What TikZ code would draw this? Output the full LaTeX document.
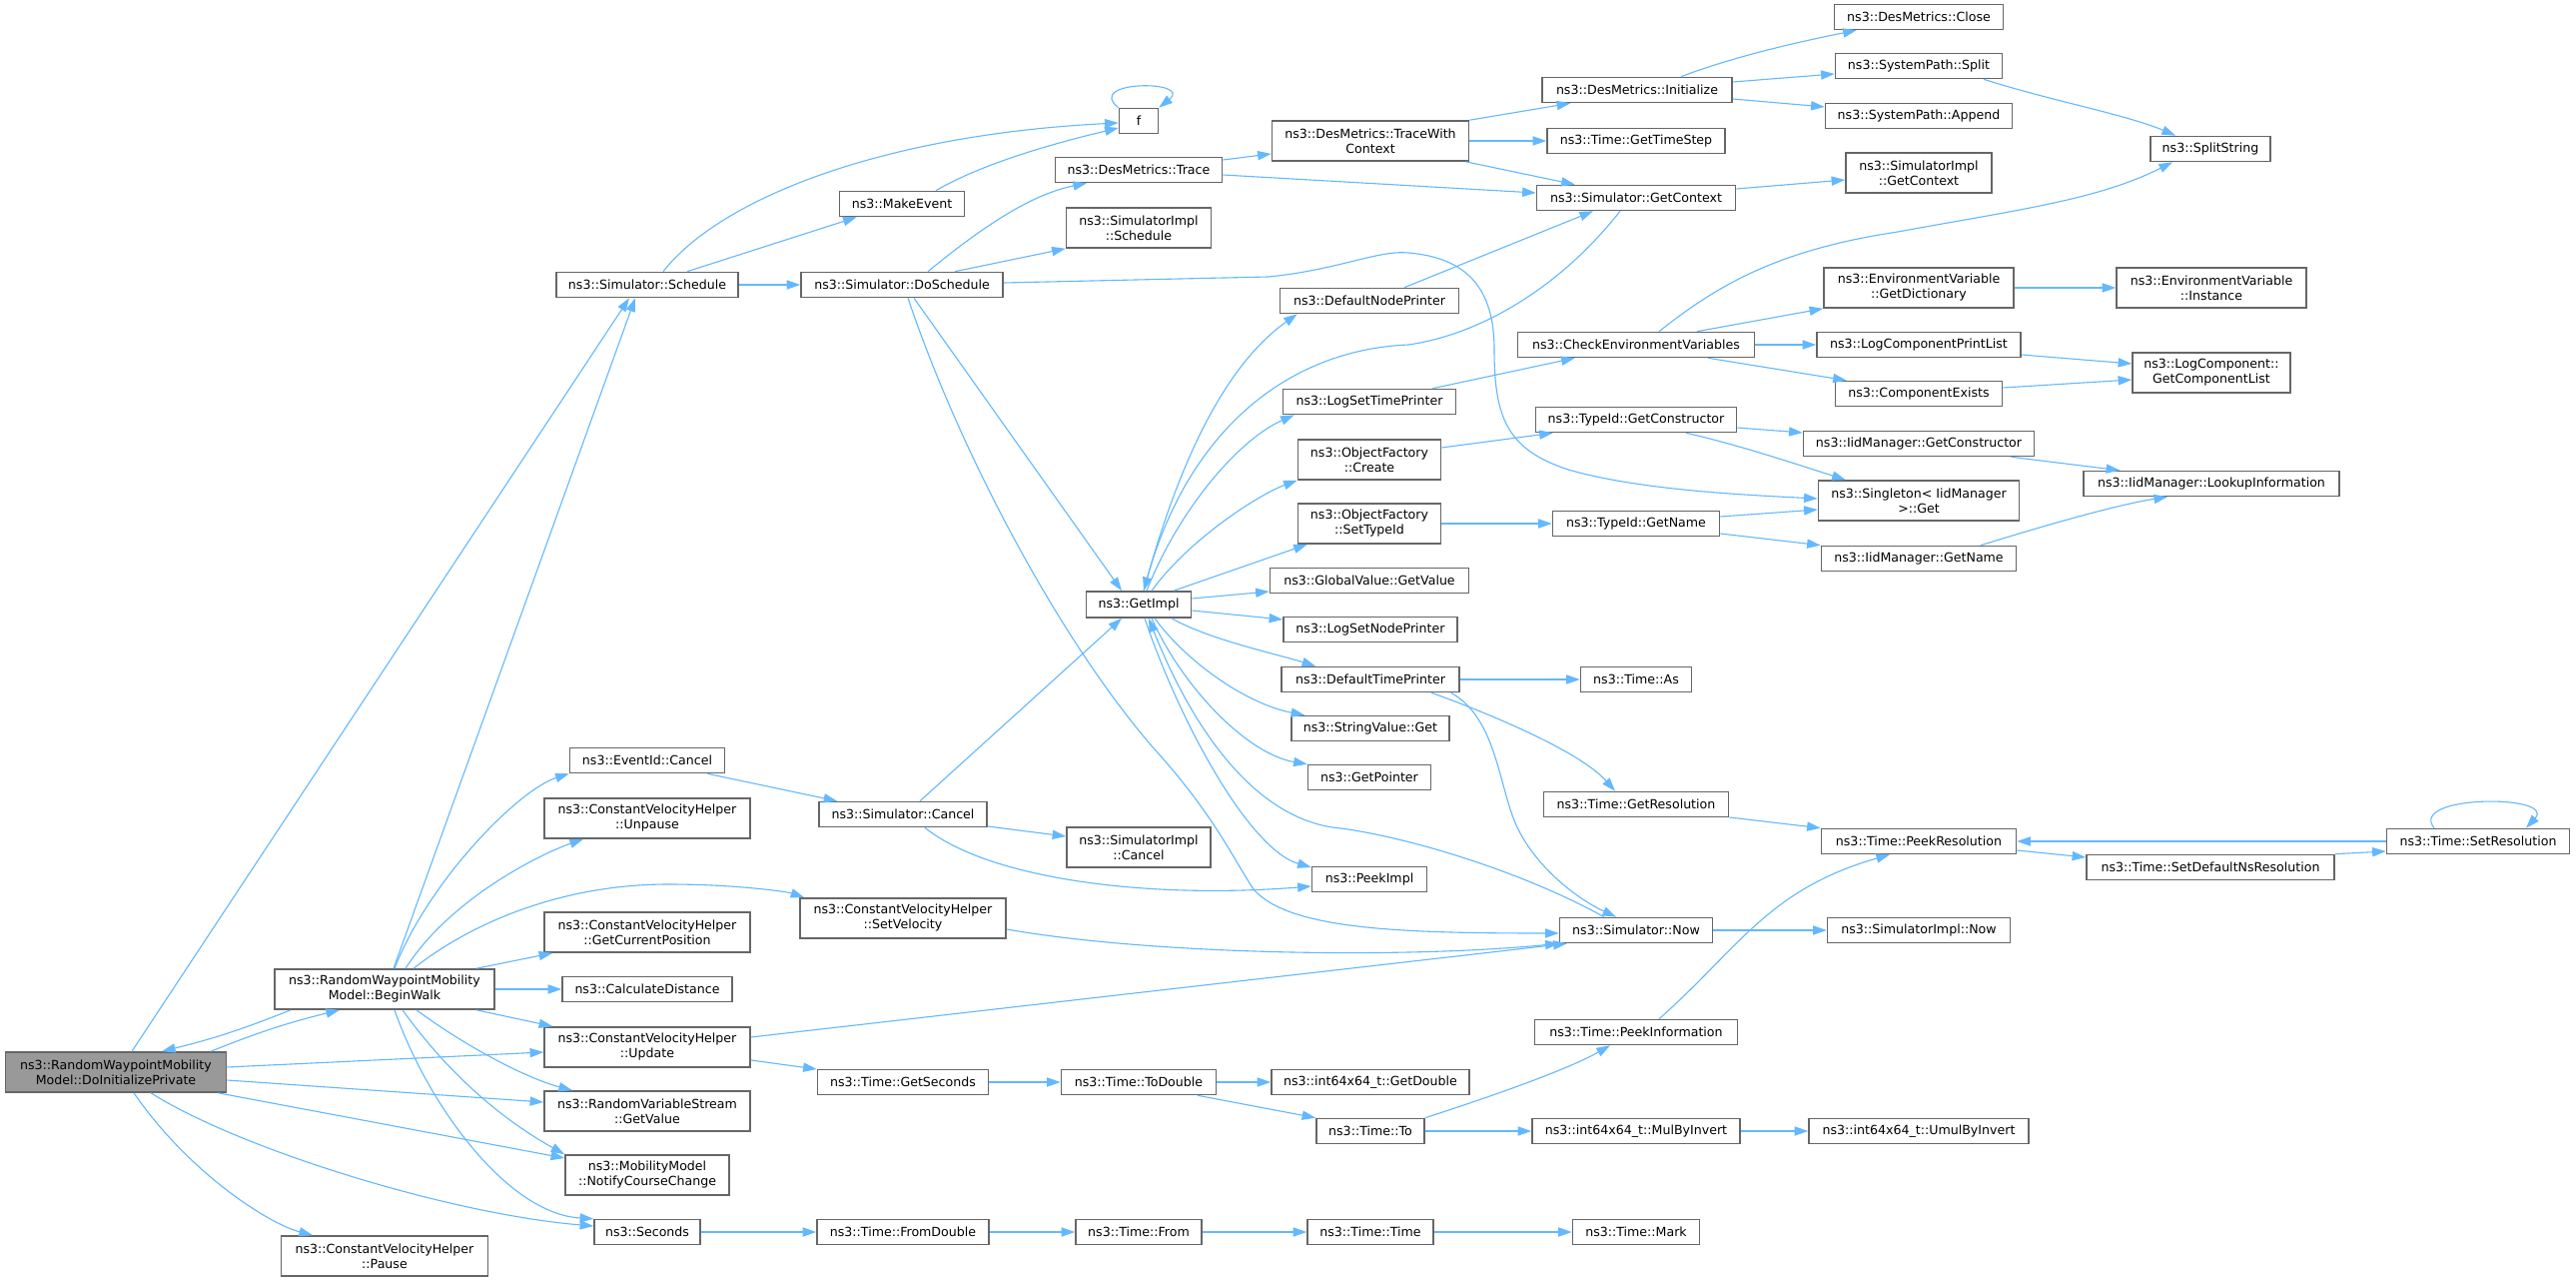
\documentclass[tikz,border=0pt]{standalone}
\usepackage{fontspec}
\newfontfamily\fnfont{DejaVu Sans}
\usetikzlibrary{arrows.meta,calc}
\definecolor{edgeblue}{HTML}{63B8FF}
\definecolor{boxline}{HTML}{666666}
\definecolor{rootfill}{HTML}{999999}
\begin{document}
\begin{tikzpicture}[
      x=0.5pt, y=-0.5pt,
      fn/.style={draw=boxline, fill=white, line width=0.8pt, font=\fnfont\fontsize{6.3}{7.5}\selectfont,
        align=center, inner xsep=2pt, inner ysep=0pt, minimum height=12.5pt, minimum width=#1},
      fn2/.style={fn=#1, minimum height=20pt},
      call/.style={draw=edgeblue, line width=0.55pt, -{Triangle[length=6.8pt,width=4.6pt]}}
      ]
      % Pour garder les proportions de l'image.
      \fill[white] (0,0) rectangle (2579,1283);
      \path[use as bounding box] (0,0) rectangle (2579,1283);

      % appelant et premier niveau
      \node[fn2=110.5pt, fill=rootfill] (doinit) at (116,1073) {ns3::RandomWaypointMobility\\Model::DoInitializePrivate};
      \node[fn2=110pt] (beginwalk) at (385,990) {ns3::RandomWaypointMobility\\Model::BeginWalk};
      \node[fn2=103.5pt] (pause) at (385,1257) {ns3::ConstantVelocityHelper\\::Pause};

      \node[fn=91pt] (schedule) at (648,285) {ns3::Simulator::Schedule};
      \node[fn=77.5pt] (evcancel) at (648,761) {ns3::EventId::Cancel};
      \node[fn2=103pt] (unpause) at (648,819) {ns3::ConstantVelocityHelper\\::Unpause};
      \node[fn2=103pt] (curpos) at (648,933) {ns3::ConstantVelocityHelper\\::GetCurrentPosition};
      \node[fn=85pt] (caldist) at (648,990) {ns3::CalculateDistance};
      \node[fn2=103pt] (update) at (648,1048) {ns3::ConstantVelocityHelper\\::Update};
      \node[fn2=103pt] (rvsvalue) at (648,1112) {ns3::RandomVariableStream\\::GetValue};
      \node[fn2=82pt] (notify) at (648,1176) {ns3::MobilityModel\\::NotifyCourseChange};
      \node[fn=53pt] (seconds) at (648,1233) {ns3::Seconds};

      \node[fn=62.5pt] (makeevent) at (903,204) {ns3::MakeEvent};
      \node[fn=101pt] (doschedule) at (903,285) {ns3::Simulator::DoSchedule};
      \node[fn=84pt] (simcancel) at (904,815) {ns3::Simulator::Cancel};
      \node[fn2=103pt] (setvel) at (904,919) {ns3::ConstantVelocityHelper\\::SetVelocity};
      \node[fn=85.5pt] (getseconds) at (904,1083) {ns3::Time::GetSeconds};
      \node[fn=86pt] (fromdouble) at (904,1233) {ns3::Time::FromDouble};

      \node[fn=19.5pt] (f) at (1140,121) {f};
      \node[fn=83.5pt] (trace) at (1140,170) {ns3::DesMetrics::Trace};
      \node[fn2=72.5pt] (implsched) at (1140,228) {ns3::SimulatorImpl\\::Schedule};
      \node[fn=52.5pt, minimum height=13pt] (getimpl) at (1140,605) {ns3::GetImpl};
      \node[fn2=72pt] (implcancel) at (1140,848) {ns3::SimulatorImpl\\::Cancel};
      \node[fn=77.5pt] (todouble) at (1140,1083) {ns3::Time::ToDouble};
      \node[fn=63pt] (timefrom) at (1140,1233) {ns3::Time::From};

      \node[fn2=98.5pt] (tracectx) at (1372,141) {ns3::DesMetrics::TraceWith\\Context};
      \node[fn=89.5pt] (nodeprinter) at (1371,301) {ns3::DefaultNodePrinter};
      \node[fn=86.5pt] (settimeprinter) at (1371,402) {ns3::LogSetTimePrinter};
      \node[fn2=71.5pt] (ofcreate) at (1371,460) {ns3::ObjectFactory\\::Create};
      \node[fn2=71.5pt] (ofsettype) at (1371,524) {ns3::ObjectFactory\\::SetTypeId};
      \node[fn=99.5pt] (gvvalue) at (1371,581) {ns3::GlobalValue::GetValue};
      \node[fn=87pt] (setnodeprinter) at (1372,630) {ns3::LogSetNodePrinter};
      \node[fn=89pt] (timeprinter) at (1372,680) {ns3::DefaultTimePrinter};
      \node[fn=79pt] (svget) at (1372,729) {ns3::StringValue::Get};
      \node[fn=61.5pt] (getpointer) at (1371,778) {ns3::GetPointer};
      \node[fn=57.5pt] (peekimpl) at (1371,880) {ns3::PeekImpl};
      \node[fn=99pt] (getdouble) at (1372,1083) {ns3::int64x64\_t::GetDouble};
      \node[fn=54pt] (timeto) at (1372,1132) {ns3::Time::To};
      \node[fn=63pt] (timetime) at (1372,1233) {ns3::Time::Time};

      \node[fn=95pt] (initialize) at (1639,90) {ns3::DesMetrics::Initialize};
      \node[fn=89pt] (timestep) at (1638,141) {ns3::Time::GetTimeStep};
      \node[fn=99.5pt] (getcontext) at (1638,198) {ns3::Simulator::GetContext};
      \node[fn=118.5pt] (checkenv) at (1638,345) {ns3::CheckEnvironmentVariables};
      \node[fn=100.5pt] (tidctor) at (1638,420) {ns3::TypeId::GetConstructor};
      \node[fn=83.5pt] (tidname) at (1638,524) {ns3::TypeId::GetName};
      \node[fn=55.5pt] (timeas) at (1638,680) {ns3::Time::As};
      \node[fn=92.5pt] (getres) at (1638,805) {ns3::Time::GetResolution};
      \node[fn=76.5pt] (now) at (1638,931) {ns3::Simulator::Now};
      \node[fn=101.5pt] (peekinfo) at (1638,1033) {ns3::Time::PeekInformation};
      \node[fn=104pt] (mulinv) at (1638,1132) {ns3::int64x64\_t::MulByInvert};
      \node[fn=63.5pt] (mark) at (1638,1233) {ns3::Time::Mark};

      \node[fn=84.5pt] (close) at (1921,17) {ns3::DesMetrics::Close};
      \node[fn=83.5pt] (split) at (1921,66) {ns3::SystemPath::Split};
      \node[fn=93.5pt] (append) at (1921,116) {ns3::SystemPath::Append};
      \node[fn2=73pt] (implctx) at (1921,173) {ns3::SimulatorImpl\\::GetContext};
      \node[fn2=95pt] (dict) at (1921,288) {ns3::EnvironmentVariable\\::GetDictionary};
      \node[fn=102pt] (comppl) at (1921,345) {ns3::LogComponentPrintList};
      \node[fn=83.5pt] (compex) at (1921,394) {ns3::ComponentExists};
      \node[fn=115.5pt] (iidctor) at (1921,444) {ns3::IidManager::GetConstructor};
      \node[fn2=100.5pt] (singleton) at (1921,501) {ns3::Singleton< IidManager\\>::Get};
      \node[fn=97.5pt] (iidname) at (1921,559) {ns3::IidManager::GetName};
      \node[fn=97.5pt] (peekres) at (1921,842) {ns3::Time::PeekResolution};
      \node[fn=91.5pt] (implnow) at (1921,931) {ns3::SimulatorImpl::Now};
      \node[fn=110pt] (umulinv) at (1921,1132) {ns3::int64x64\_t::UmulByInvert};

      \node[fn=60pt] (splitstring) at (2213,149) {ns3::SplitString};
      \node[fn2=95pt] (envinst) at (2214,288) {ns3::EnvironmentVariable\\::Instance};
      \node[fn2=79pt] (complist) at (2214,373) {ns3::LogComponent::\\GetComponentList};
      \node[fn=128pt] (lookup) at (2214,484) {ns3::IidManager::LookupInformation};
      \node[fn=124pt] (setdefns) at (2213,868) {ns3::Time::SetDefaultNsResolution};
      \node[fn=91.5pt] (setres) at (2481,842) {ns3::Time::SetResolution};

      % appels de DoInitializePrivate
      \draw[call] ([xshift=8pt]doinit.north) -- ([xshift=-9pt]schedule.south);
      \draw[call] ([xshift=47.5pt]doinit.north) to[bend left=4] ([xshift=-22.5pt]beginwalk.south);
      \draw[call] ([yshift=2.5pt]doinit.east) -- ([yshift=-2.5pt]update.west);
      \draw[call] ([yshift=-4pt]doinit.east) -- ([yshift=4.5pt]rvsvalue.west);
      \draw[call] ([xshift=-4.5pt]doinit.south east) -- ([yshift=8.5pt]notify.west);
      \draw[call] ([xshift=17.5pt]doinit.south) .. controls (240,1150) and (450,1215) .. ([yshift=3pt]seconds.west);
      \draw[call] ([xshift=9pt]doinit.south) .. controls (190,1175) and (270,1225) .. ([xshift=-36pt]pause.north);

      % appels de BeginWalk
      \draw[call] ([xshift=-47pt]beginwalk.south) to[bend left=4] ([xshift=23pt]doinit.north);
      \draw[call] ([xshift=4.5pt]beginwalk.north) -- ([xshift=-6pt]schedule.south);
      \draw[call] ([xshift=5pt]beginwalk.north) .. controls (430,880) and (520,790) .. (evcancel.south west);
      \draw[call] ([xshift=10.5pt]beginwalk.north) .. controls (450,900) and (540,855) .. ([xshift=-32pt]unpause.south);
      \draw[call] ([xshift=14.5pt]beginwalk.north) .. controls (470,925) and (560,885) .. (669,885)
        .. controls (740,885) and (790,893) .. ([xshift=2.5pt]setvel.north west);
      \draw[call] ([xshift=46pt]beginwalk.north) -- ([xshift=4.5pt]curpos.south west);
      \draw[call] (beginwalk.east) -- (caldist.west);
      \draw[call] ([xshift=46pt]beginwalk.south) -- ([xshift=4.5pt]update.north west);
      \draw[call] ([xshift=16pt]beginwalk.south) .. controls (470,1050) and (530,1080) .. ([xshift=-37.5pt]rvsvalue.north);
      \draw[call] ([xshift=9pt]beginwalk.south) .. controls (460,1090) and (520,1130) .. (notify.north west);
      \draw[call] ([xshift=5pt]beginwalk.south) .. controls (430,1110) and (510,1215) .. (seconds.north west);

      % Schedule et DoSchedule
      \draw[call] ([xshift=8pt]schedule.north) .. controls (720,200) and (880,135) .. ([yshift=-1pt]f.west);
      \draw[call] ([xshift=20pt]schedule.north) -- ([xshift=9pt]makeevent.south west);
      \draw[call] (schedule.east) -- (doschedule.west);
      \draw[call] ([xshift=17pt]makeevent.north) .. controls (990,160) and (1070,140) .. ([yshift=-3.5pt]f.west);
      \draw[call] (f.north west) .. controls (1085,80) and (1195,80) .. (f.north east);
      \draw[call] ([xshift=13pt]doschedule.north) .. controls (980,230) and (1030,195) .. ([xshift=-26pt]trace.south);
      \draw[call] ([xshift=26.5pt]doschedule.north) -- (implsched.south west);
      \draw[call] ([yshift=1pt]doschedule.east) -- (1270,277) .. controls (1340,270) and (1380,250) .. (1410,253)
        .. controls (1470,258) and (1496,290) .. (1496,350) .. controls (1496,420) and (1510,450) .. (1570,470)
        .. controls (1640,490) and (1740,495) .. ([yshift=1pt]singleton.west);
      \draw[call] ([xshift=6pt]doschedule.south) -- ([xshift=-8.5pt]getimpl.north);
      \draw[call] ([xshift=3pt]doschedule.south) .. controls (960,450) and (1060,640) .. (1156,750)
        .. controls (1215,815) and (1235,860) .. (1255,890) .. controls (1290,930) and (1400,934) .. ([yshift=-1.5pt]now.west);

      % DesMetrics
      \draw[call] ([yshift=5pt]trace.east) -- ([yshift=-6.5pt]tracectx.west);
      \draw[call] ([yshift=-2.5pt]trace.east) -- ([yshift=2.5pt]getcontext.west);
      \draw[call] (tracectx.north east) -- ([xshift=14.5pt]initialize.south west);
      \draw[call] (tracectx.east) -- (timestep.west);
      \draw[call] ([xshift=-2pt]tracectx.south east) -- ([xshift=19.5pt]getcontext.north west);
      \draw[call] ([xshift=22pt]initialize.north) .. controls (1740,55) and (1810,40) .. ([xshift=11.5pt]close.south west);
      \draw[call] ([yshift=4pt]initialize.east) -- ([yshift=-4pt]split.west);
      \draw[call] ([yshift=-4.5pt]initialize.east) -- ([yshift=4.5pt]append.west);
      \draw[call] ([xshift=32.5pt]split.south) .. controls (2050,100) and (2130,115) .. ([xshift=-17.5pt]splitstring.north);
      \draw[call] ([yshift=4.5pt]getcontext.east) -- ([yshift=-3.5pt]implctx.west);
      \draw[call] ([xshift=-8pt]getcontext.south) .. controls (1560,290) and (1480,335) .. (1410,345)
        .. controls (1290,350) and (1190,430) .. ([xshift=2.5pt]getimpl.north);
      \draw[call] ([xshift=17.5pt]nodeprinter.north) -- ([xshift=-21.5pt]getcontext.south);

      % appels de GetImpl
      \draw[call] ([xshift=2.5pt]getimpl.north) .. controls (1175,480) and (1220,370) .. ([xshift=9pt]nodeprinter.south west);
      \draw[call] ([xshift=4pt]getimpl.north) .. controls (1180,510) and (1240,440) .. ([xshift=6pt]settimeprinter.south west);
      \draw[call] ([xshift=6.5pt]getimpl.north) .. controls (1190,540) and (1260,495) .. (ofcreate.south west);
      \draw[call] ([xshift=17.5pt]getimpl.north) -- ([xshift=5pt]ofsettype.south west);
      \draw[call] ([yshift=3pt]getimpl.east) -- ([yshift=-5.5pt]gvvalue.west);
      \draw[call] ([yshift=-3pt]getimpl.east) -- ([yshift=5pt]setnodeprinter.west);
      \draw[call] ([xshift=16.5pt]getimpl.south) .. controls (1210,640) and (1280,655) .. ([xshift=17.5pt]timeprinter.north west);
      \draw[call] ([xshift=8pt]getimpl.south) .. controls (1190,665) and (1250,705) .. ([xshift=7pt]svget.north west);
      \draw[call] ([xshift=6.5pt]getimpl.south) .. controls (1185,690) and (1250,755) .. (getpointer.north west);
      \draw[call] ([xshift=3pt]getimpl.south) .. controls (1180,720) and (1250,850) .. ([yshift=6pt]peekimpl.west);
      \draw[call] ([xshift=-16pt]now.north) .. controls (1520,870) and (1400,835) .. (1334,828)
        .. controls (1250,815) and (1190,720) .. ([xshift=5pt]getimpl.south);

      % Cancel
      \draw[call] ([xshift=-9pt]evcancel.south east) -- ([xshift=9.5pt]simcancel.north west);
      \draw[call] ([xshift=8.5pt]simcancel.north) -- ([xshift=-8.5pt]getimpl.south);
      \draw[call] ([yshift=-6pt]simcancel.east) -- ([yshift=5.5pt]implcancel.west);
      \draw[call] ([xshift=11pt]simcancel.south) .. controls (990,880) and (1150,900) .. ([yshift=-3.5pt]peekimpl.west);

      % Now et Update
      \draw[call] ([yshift=-5.5pt]setvel.east) .. controls (1150,955) and (1400,960) .. (now.south west);
      \draw[call] ([yshift=5pt]update.east) -- ([xshift=4pt]now.south west);
      \draw[call] (now.east) -- (implnow.west);
      \draw[call] ([yshift=-6.5pt]update.east) -- ([yshift=6.5pt]getseconds.west);
      \draw[call] (getseconds.east) -- (todouble.west);
      \draw[call] (todouble.east) -- (getdouble.west);
      \draw[call] ([xshift=29.5pt]todouble.south) -- (timeto.north west);
      \draw[call] (timeto.east) -- (mulinv.west);
      \draw[call] (timeto.north east) .. controls (1500,1095) and (1570,1070) .. ([xshift=-13pt]peekinfo.south);
      \draw[call] ([xshift=11.5pt]peekinfo.north) .. controls (1740,950) and (1770,890) .. ([xshift=-14.5pt]peekres.south);
      \draw[call] (mulinv.east) -- (umulinv.west);

      % resolution
      \draw[call] ([yshift=-6.5pt]getres.east) -- (peekres.north west);
      \draw[call] ([yshift=-4.5pt]peekres.east) -- ([yshift=5pt]setdefns.west);
      \draw[call] (setdefns.north east) -- ([yshift=-5pt]setres.west);
      \draw[call] (setres.west) -- (peekres.east);
      \draw[call] ([xshift=-22pt]setres.north) .. controls (2410,795) and (2560,795) .. ([xshift=24pt]setres.north);

      % Seconds
      \draw[call] (seconds.east) -- (fromdouble.west);
      \draw[call] (fromdouble.east) -- (timefrom.west);
      \draw[call] (timefrom.east) -- (timetime.west);
      \draw[call] (timetime.east) -- (mark.west);

      % imprimeurs
      \draw[call] (timeprinter.east) -- (timeas.west);
      \draw[call] ([xshift=30.5pt]timeprinter.south) .. controls (1480,710) and (1580,750) .. ([xshift=-10.5pt]getres.north);
      \draw[call] ([xshift=-4.5pt]timeprinter.south east) .. controls (1500,720) and (1500,790) .. (1520,830)
        .. controls (1540,870) and (1580,900) .. ([xshift=-10pt]now.north);
      \draw[call] ([xshift=-12pt]settimeprinter.north east) -- ([xshift=29pt]checkenv.south west);

      % variables d'environnement
      \draw[call] ([xshift=11.5pt]checkenv.north) .. controls (1720,285) and (1780,250) .. (1900,232)
        .. controls (2020,210) and (2100,200) .. ([xshift=-19pt]splitstring.south);
      \draw[call] ([xshift=30.5pt]checkenv.north) -- (dict.south west);
      \draw[call] (checkenv.east) -- (comppl.west);
      \draw[call] ([xshift=36pt]checkenv.south) -- ([xshift=6pt]compex.north west);
      \draw[call] (dict.east) -- (envinst.west);
      \draw[call] ([yshift=-5pt]comppl.east) -- ([yshift=4.5pt]complist.west);
      \draw[call] ([yshift=3pt]compex.east) -- ([yshift=-3.5pt]complist.west);

      % TypeId
      \draw[call] ([yshift=6pt]ofcreate.east) -- ([xshift=9pt]tidctor.south west);
      \draw[call] (ofsettype.east) -- (tidname.west);
      \draw[call] ([yshift=-4pt]tidctor.east) -- ([yshift=5.5pt]iidctor.west);
      \draw[call] ([xshift=25pt]tidctor.south) .. controls (1740,445) and (1800,465) .. ([xshift=14pt]singleton.north west);
      \draw[call] ([yshift=3.5pt]tidname.east) -- ([yshift=-4.5pt]singleton.west);
      \draw[call] ([yshift=-5pt]tidname.east) -- (iidname.north west);
      \draw[call] ([xshift=-12pt]iidctor.south east) -- ([xshift=18.5pt]lookup.north west);
      \draw[call] ([xshift=31pt]iidname.north) .. controls (2050,525) and (2120,505) .. ([xshift=-22pt]lookup.south);
    \end{tikzpicture}
\end{document}
